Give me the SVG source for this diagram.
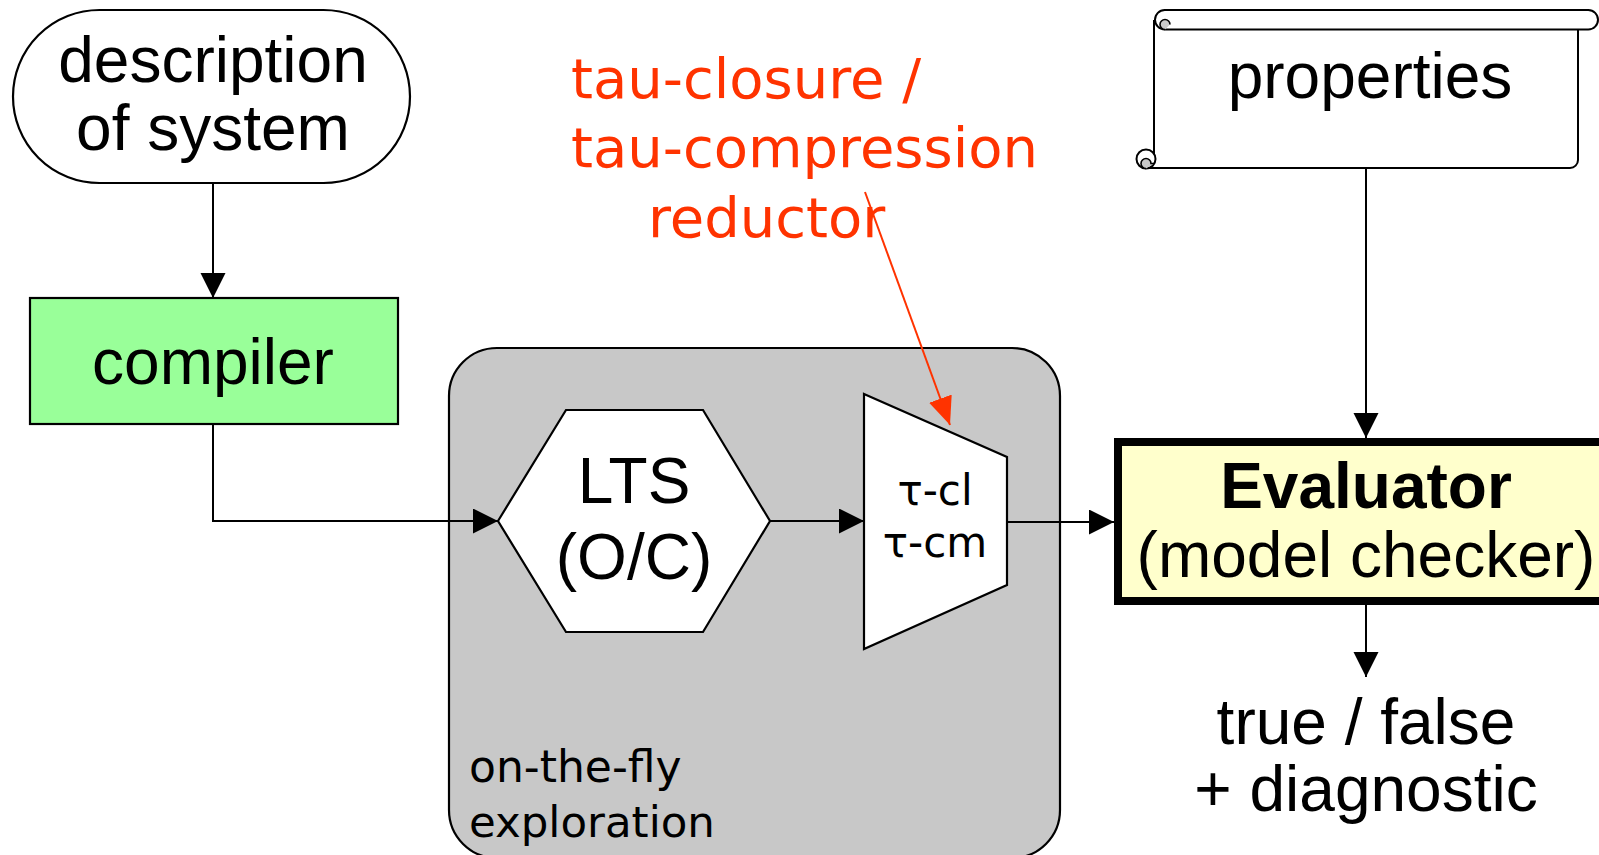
<svg xmlns="http://www.w3.org/2000/svg" width="1599" height="855" viewBox="0 0 1599 855">
  <style>
    .sans { font-family: "Liberation Sans", Arial, sans-serif; }
    .hum { font-family: "DejaVu Sans", Verdana, sans-serif; }
    .big { font-size: 64px; fill: #000; text-anchor: middle; }
    .line { fill: none; stroke: #000; stroke-width: 2; }
    .shape { stroke: #000; stroke-width: 2.2; }
  </style>
  <defs>
    <marker id="arrow" markerUnits="userSpaceOnUse" markerWidth="26" markerHeight="26" refX="25" refY="12.5" orient="auto">
      <path d="M0,0 L25,12.5 L0,25 Z" fill="#000"/>
    </marker>
    <marker id="arrowRed" markerUnits="userSpaceOnUse" markerWidth="30" markerHeight="26" refX="28" refY="12" orient="auto">
      <path d="M0,0 L28,12 L0,24 Z" fill="#ff3300"/>
    </marker>
  </defs>

  <!-- exploration container -->
  <g id="exploration">
    <rect x="449" y="348" width="611" height="510" rx="48" fill="#c8c8c8" class="shape"/>
    <text class="hum" font-size="44" fill="#000" x="469" y="782">on-the-fly</text>
    <text class="hum" font-size="43.5" fill="#000" x="469" y="837">exploration</text>
  </g>

  <!-- connectors -->
  <g id="connectors">
    <path class="line" d="M213,183 V298" marker-end="url(#arrow)"/>
    <path class="line" d="M213,424 V521 H498" marker-end="url(#arrow)"/>
    <path class="line" d="M770,521 H864" marker-end="url(#arrow)"/>
    <path class="line" d="M1007,522 H1114" marker-end="url(#arrow)"/>
    <path class="line" d="M1366,168 V438" marker-end="url(#arrow)"/>
    <path class="line" d="M1366,605 V677" marker-end="url(#arrow)"/>
  </g>

  <!-- description of system -->
  <g id="description">
    <rect x="13" y="10" width="397" height="173" rx="86.5" fill="#fff" class="shape"/>
    <text class="sans big" x="213" y="82">description</text>
    <text class="sans big" x="213" y="150">of system</text>
  </g>

  <!-- compiler -->
  <g id="compiler">
    <rect x="30" y="298" width="368" height="126" fill="#99ff99" class="shape"/>
    <text class="sans big" x="213" y="384">compiler</text>
  </g>

  <!-- LTS generator -->
  <g id="lts">
    <polygon points="498,521 566,410 703,410 770,521 703,632 566,632" fill="#fff" class="shape"/>
    <text class="sans big" x="634" y="503">LTS</text>
    <text class="sans big" x="634" y="579">(O/C)</text>
  </g>

  <!-- tau reductor -->
  <g id="reductor">
    <polygon points="864,394 1007,457 1007,585 864,649" fill="#fff" class="shape"/>
    <text class="hum" font-size="42" text-anchor="middle" x="935" y="505">τ-cl</text>
    <text class="hum" font-size="42" text-anchor="middle" x="935" y="557">τ-cm</text>
  </g>

  <!-- reductor note -->
  <g id="reductor-note">
    <text class="hum" font-size="56" fill="#ff3300" x="571" y="98">tau-closure /</text>
    <text class="hum" font-size="56" fill="#ff3300" x="571" y="167">tau-compression</text>
    <text class="hum" font-size="56" fill="#ff3300" x="648" y="237">reductor</text>
    <path d="M865,192 L950,425" fill="none" stroke="#ff3300" stroke-width="2" marker-end="url(#arrowRed)"/>
  </g>

  <!-- properties scroll -->
  <g id="properties">
    <rect x="1154" y="20" width="424" height="148" fill="#fff"/>
    <path d="M1154,20 V159 M1146,168 H1570 A8,8 0 0 0 1578,160 V29" fill="none" stroke="#000" stroke-width="2"/>
    <rect x="1155" y="10" width="443" height="19.5" rx="9.75" fill="#fff" stroke="#000" stroke-width="2"/>
    <path d="M1165,29.5 A5,5 0 0 1 1165,19.5 A5,5 0 0 1 1170,24.5" fill="#c8c8c8" stroke="#000" stroke-width="1.6"/>
    <circle cx="1146" cy="159" r="9.5" fill="#fff" stroke="#000" stroke-width="2"/>
    <path d="M1146,168.5 A5,5 0 0 1 1146,158.5 A5,5 0 0 1 1151,163.5 H1154" fill="#c8c8c8" stroke="#000" stroke-width="1.6"/>
    <text class="sans big" x="1370" y="98">properties</text>
  </g>

  <!-- evaluator -->
  <g id="evaluator">
    <rect x="1118" y="442" width="500" height="159" fill="#ffffcc" stroke="#000" stroke-width="8"/>
    <text class="sans big" font-weight="bold" x="1366" y="508">Evaluator</text>
    <text class="sans big" x="1366" y="577">(model checker)</text>
  </g>

  <!-- verdict -->
  <g id="verdict">
    <text class="sans big" x="1366" y="744">true / false</text>
    <text class="sans big" x="1366" y="811">+ diagnostic</text>
  </g>
</svg>
